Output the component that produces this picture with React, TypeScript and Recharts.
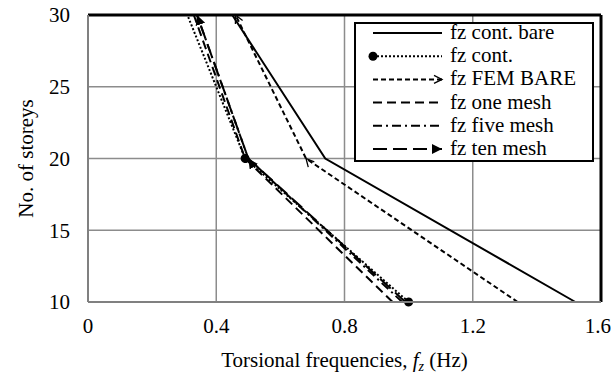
import React from "react";
import { LineChart, Line, XAxis, YAxis, CartesianGrid, ReferenceLine, Label } from "recharts";

// storeys (y axis) and torsional frequencies (x axis) per series
const storeys = [10, 20, 30];
const contBare = [1.52, 0.74, 0.45];
const cont = [1.0, 0.49, 0.31];
const femBare = [1.34, 0.68, 0.46];
const oneMesh = [0.95, 0.49, 0.33];
const fiveMesh = [0.98, 0.5, 0.34];
const tenMesh = [0.99, 0.5, 0.34];

const xTicks = [0, 0.4, 0.8, 1.2, 1.6];
const yTicks = [10, 15, 20, 25, 30];

type SeriesDef = {
  key: string;
  name: string;
  values: number[];
  dash?: string;
  start?: string;
  mid?: string;
  end?: string;
};

const series: SeriesDef[] = [
  { key: "contBare", name: "fz cont. bare", values: contBare },
  { key: "cont", name: "fz cont.", values: cont, dash: "2 2", start: "dotCircle", mid: "dotCircle" },
  { key: "femBare", name: "fz FEM BARE", values: femBare, dash: "5 3", mid: "openArrow", end: "openArrow" },
  { key: "oneMesh", name: "fz one mesh", values: oneMesh, dash: "9 5" },
  { key: "fiveMesh", name: "fz five mesh", values: fiveMesh, dash: "9 4 2 4" },
  { key: "tenMesh", name: "fz ten mesh", values: tenMesh, dash: "14 6", mid: "filledTri", end: "filledTri" },
];

const data = storeys.map((s, i) => {
  const row: { [k: string]: number } = { storey: s };
  series.forEach((sr) => {
    row[sr.key] = sr.values[i];
  });
  return row;
});

const FONT = "Liberation Serif";
const FS = 21;
const url = (id?: string) => (id ? `url(#${id})` : undefined);

const MarkerDefs = () => (
  <svg width={0} height={0} style={{ position: "absolute" }}>
    <defs>
      <marker id="dotCircle" markerUnits="userSpaceOnUse" markerWidth={12} markerHeight={12} refX={6} refY={6} orient="auto">
        <circle cx={6} cy={6} r={4.5} fill="#000" />
      </marker>
      <marker id="openArrow" markerUnits="userSpaceOnUse" markerWidth={12} markerHeight={12} refX={9} refY={5} orient="auto">
        <path d="M1,1 L9,5 L1,9" fill="none" stroke="#000" strokeWidth={1.3} />
      </marker>
      <marker id="filledTri" markerUnits="userSpaceOnUse" markerWidth={12} markerHeight={12} refX={10} refY={5} orient="auto">
        <path d="M0,0 L10,5 L0,10 Z" fill="#000" />
      </marker>
    </defs>
  </svg>
);

// legend svg sits 10px above the box so text ascenders are never clipped
const LegendBox = () => (
  <svg width={240} height={152} style={{ display: "block", overflow: "visible" }}>
    <rect x={1} y={11} width={238} height={138} fill="#fff" stroke="#000" strokeWidth={2} />
    {series.map((s, i) => {
      const y = 21 + i * 23.2;
      return (
        <g key={s.key}>
          <line
            x1={19}
            x2={88}
            y1={y}
            y2={y}
            stroke="#000"
            strokeWidth={2}
            strokeDasharray={s.dash}
            markerStart={url(s.start)}
            markerEnd={url(s.end)}
          />
          <text x={96} y={y + 6} fontFamily={FONT} style={{ fontFamily: FONT }} fontSize={FS} fill="#000">
            {s.name}
          </text>
        </g>
      );
    })}
  </svg>
);

const tickStyle = { fontFamily: FONT, fontSize: FS, fill: "#000", style: { fontFamily: FONT } };

export default function App() {
  return (
    <div style={{ position: "absolute", left: 0, top: 0, width: 611, height: 373, background: "#fff" }}>
      <MarkerDefs />
      <LineChart
        width={611}
        height={373}
        data={data}
        layout="vertical"
        margin={{ top: 15, right: 10, left: 0, bottom: 0 }}
      >
        <CartesianGrid stroke="#8c8c8c" strokeWidth={1.5} />
        <XAxis
          type="number"
          domain={[0, 1.6]}
          ticks={xTicks}
          height={71}
          tickLine={false}
          tickSize={0}
          tickMargin={16}
          axisLine={{ stroke: "#808080", strokeWidth: 2 }}
          tick={tickStyle}
        >
          <Label
            content={({ viewBox }: any) => (
              <text
                x={viewBox.x + viewBox.width / 2}
                y={367}
                textAnchor="middle"
                fontFamily={FONT}
                style={{ fontFamily: FONT }}
                fontSize={FS}
                fill="#000"
              >
                Torsional frequencies,{" "}
                <tspan fontStyle="italic">f</tspan>
                <tspan fontStyle="italic" fontSize={14} dy={4}>z</tspan>
                <tspan dy={-4}> (Hz)</tspan>
              </text>
            )}
          />
        </XAxis>
        <YAxis
          type="number"
          dataKey="storey"
          domain={[10, 30]}
          ticks={yTicks}
          reversed
          width={88}
          tickLine={false}
          tickSize={0}
          tickMargin={18}
          axisLine={{ stroke: "#808080", strokeWidth: 2 }}
          tick={tickStyle}
        >
          <Label
            content={({ viewBox }: any) => {
              const cx = 26;
              const cy = viewBox.y + viewBox.height / 2;
              return (
                <text
                  x={cx}
                  y={cy}
                  textAnchor="middle"
                  dominantBaseline="central"
                  transform={`rotate(-90 ${cx} ${cy})`}
                  fontFamily={FONT}
                  style={{ fontFamily: FONT }}
                  fontSize={FS}
                  fill="#000"
                >
                  No. of storeys
                </text>
              );
            }}
          />
        </YAxis>
        <ReferenceLine y={30} stroke="#000" strokeWidth={3} />
        <ReferenceLine x={1.6} stroke="#000" strokeWidth={3} />
        {series.map((s) => (
          <Line
            key={s.key}
            dataKey={s.key}
            name={s.name}
            type="linear"
            stroke="#000"
            strokeWidth={2}
            strokeDasharray={s.dash}
            markerStart={url(s.start)}
            markerMid={url(s.mid)}
            markerEnd={url(s.end)}
            dot={false}
            activeDot={false}
            isAnimationActive={false}
          />
        ))}
      </LineChart>
      <div style={{ position: "absolute", left: 354, top: 12 }}>
        <LegendBox />
      </div>
    </div>
  );
}
